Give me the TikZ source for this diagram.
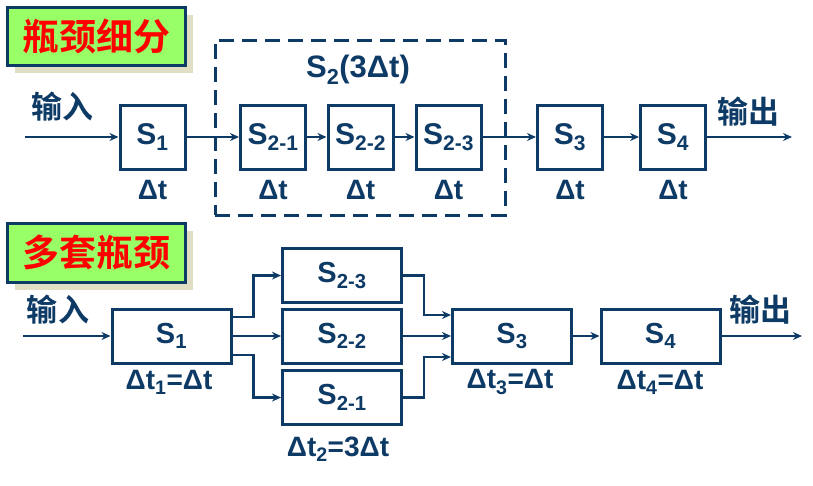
\documentclass[tikz,border=0pt]{standalone}
\usepackage{fontspec}
\setmainfont{Liberation Sans}
\newfontfamily\cjk{Noto Sans CJK SC}[BoldFont={Noto Sans CJK SC Bold}]
\usetikzlibrary{arrows.meta}
\definecolor{navy}{HTML}{0E3A66}
\definecolor{tagfill}{HTML}{99FF66}
\definecolor{tagshade}{HTML}{E0DFC4}

\begin{document}
\begin{tikzpicture}[x=1pt,y=-1pt,
    every node/.style={text=navy,font=\bfseries},
    stage/.style={draw=navy,line width=3pt,minimum width=65pt,minimum height=64pt,inner sep=0pt,font=\bfseries\fontsize{30}{32}\selectfont},
    widestage/.style={stage,minimum width=119pt,minimum height=54pt,font=\bfseries\fontsize{29}{31}\selectfont},
    tag/.style={draw=navy,line width=3pt,fill=tagfill,minimum width=178pt,minimum height=58pt,inner sep=0pt,text=red,font=\cjk\bfseries\fontsize{37}{39}\selectfont},
    io/.style={font=\cjk\bfseries\fontsize{31}{33}\selectfont},
    delay/.style={font=\bfseries\fontsize{28}{30}\selectfont},
    flow/.style={draw=navy,line width=2.5pt,-{Stealth[length=9pt,width=8pt]}}]
  \useasboundingbox (0,0) rectangle (813,485);

  % splitting the bottleneck
  \fill[tagshade] (15,15) rectangle (193,73);
  \node[tag] (tagA) at (96,36) {瓶颈细分};
  \node[io] (inA) at (62,107) {输入};
  \node[io] (outA) at (748,112) {输出};
  \coordinate (srcA) at (25,137);
  \coordinate (dstA) at (792,137);

  \node[draw=navy,line width=3pt,dash pattern=on 15pt off 8pt,minimum width=290pt,minimum height=175pt] (grp) at (360,127.5) {};
  \node[delay,font=\bfseries\fontsize{31}{33}\selectfont] (grpname) at (358,70) {S\textsubscript{2}(3Δt)};

  \node[stage] (sA1) at (152.5,137) {S\textsubscript{1}};
  \node[stage] (sA21) at (273,137) {S\textsubscript{2-1}};
  \node[stage] (sA22) at (360.5,137) {S\textsubscript{2-2}};
  \node[stage] (sA23) at (448.5,137) {S\textsubscript{2-3}};
  \node[stage] (sA3) at (570,137) {S\textsubscript{3}};
  \node[stage] (sA4) at (673,137) {S\textsubscript{4}};

  \node[delay] (dA1) at (152.5,190) {Δt};
  \node[delay] (dA21) at (273,190) {Δt};
  \node[delay] (dA22) at (360.5,190) {Δt};
  \node[delay] (dA23) at (448.5,190) {Δt};
  \node[delay] (dA3) at (570,190) {Δt};
  \node[delay] (dA4) at (673,190) {Δt};

  \draw[flow] (srcA) -- (sA1);
  \draw[flow] (sA1) -- (sA21);
  \draw[flow] (sA21) -- (sA22);
  \draw[flow] (sA22) -- (sA23);
  \draw[flow] (sA23) -- (sA3);
  \draw[flow] (sA3) -- (sA4);
  \draw[flow] (sA4) -- (dstA);

  % replicated bottleneck
  \fill[tagshade] (15,231) rectangle (193,290);
  \node[tag,minimum height=59pt] (tagB) at (96,252.5) {多套瓶颈};
  \node[io] (inB) at (58,310) {输入};
  \node[io] (outB) at (760,310) {输出};
  \coordinate (srcB) at (23,336);
  \coordinate (dstB) at (802,336);

  \node[widestage] (sB1) at (171.5,336) {S\textsubscript{1}};
  \node[widestage] (sB23) at (342,275.5) {S\textsubscript{2-3}};
  \node[widestage] (sB22) at (342,336) {S\textsubscript{2-2}};
  \node[widestage] (sB21) at (342,397.5) {S\textsubscript{2-1}};
  \node[widestage] (sB3) at (512,336) {S\textsubscript{3}};
  \node[widestage] (sB4) at (660.5,336) {S\textsubscript{4}};

  \node[delay] (dB1) at (169,382) {Δt\textsubscript{1}=Δt};
  \node[delay] (dB2) at (338,449) {Δt\textsubscript{2}=3Δt};
  \node[delay] (dB3) at (510,382) {Δt\textsubscript{3}=Δt};
  \node[delay] (dB4) at (660,382) {Δt\textsubscript{4}=Δt};

  \draw[flow] (srcB) -- (sB1);
  \draw[flow] ([yshift=19pt]sB1.east) -- ++(21,0) |- (sB23.west);
  \draw[flow] (sB1) -- (sB22);
  \draw[flow] ([yshift=-19pt]sB1.east) -- ++(21,0) |- (sB21.west);
  \draw[flow] (sB23.east) -- ++(21,0) |- ([yshift=21pt]sB3.west);
  \draw[flow] (sB22) -- (sB3);
  \draw[flow] (sB21.east) -- ++(21,0) |- ([yshift=-21pt]sB3.west);
  \draw[flow] (sB3) -- (sB4);
  \draw[flow] (sB4) -- (dstB);
\end{tikzpicture}
\end{document}
